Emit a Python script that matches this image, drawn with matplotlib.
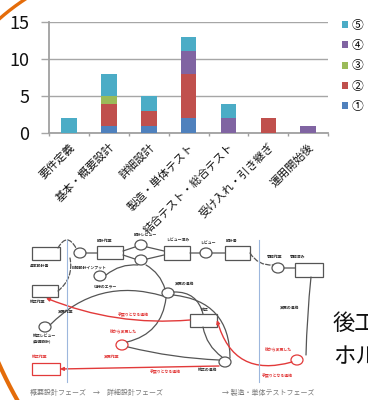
import numpy as np
import matplotlib
matplotlib.use('Agg')
import matplotlib.pyplot as plt
from matplotlib.patches import Rectangle, Ellipse, FancyArrowPatch

plt.rcParams['font.family'] = ['Noto Sans CJK JP', 'DejaVu Sans']

# defects found per phase, split by type
phases = ['要件定義', '基本・概要設計', '詳細設計', '製造・単体テスト',
          '結合テスト・総合テスト', '受け入れ・引き継ぎ', '運用開始後']
series_names = ['①', '②', '③', '④', '⑤']
s1 = [0, 1, 1, 2, 0, 0, 0]
s2 = [0, 3, 2, 6, 0, 2, 0]
s3 = [0, 1, 0, 0, 0, 0, 0]
s4 = [0, 0, 0, 3, 2, 0, 1]
s5 = [2, 3, 2, 2, 2, 0, 0]
colors = ['#4F81BD', '#C0504D', '#9BBB59', '#8064A2', '#4BACC6']
y_ticks = [0, 5, 10, 15]

W, H = 368, 400
fig = plt.figure(figsize=(W / 100, H / 100), dpi=100)

# --- flow diagram underneath (pixel coordinates) ---
ov = fig.add_axes([0, 0, 1, 1], zorder=0)
ov.set_xlim(0, W)
ov.set_ylim(H, 0)
ov.axis('off')

GRAY = '#555555'
RED = '#e23a3a'


def box(x0, y0, x1, y1, c=GRAY):
    ov.add_patch(Rectangle((x0, y0), x1 - x0, y1 - y0, fill=False, ec=c, lw=0.9))


def oval(cx, cy, c=GRAY, w=12, h=10):
    ov.add_patch(Ellipse((cx, cy), w, h, fill=False, ec=c, lw=0.9))


def link(p0, p1, rad=0.0, c=GRAY, ls='-', arrow='-', lw=0.9):
    ov.add_patch(FancyArrowPatch(p0, p1, connectionstyle=f'arc3,rad={rad}',
                                 arrowstyle=arrow, mutation_scale=5,
                                 color=c, lw=lw, ls=ls, shrinkA=0, shrinkB=0))


def tiny(x, y, s, c='#333333', size=2.8):
    ov.text(x, y, s, fontsize=size, color=c, ha='left', va='center', weight='bold')


# phase separators
for xv in (67, 259):
    ov.plot([xv, xv], [240, 382], color='#9db7dd', lw=0.8)

box(32, 247, 60, 260)
box(97, 246, 123, 259)
box(164, 246, 190, 260)
box(225, 246, 250, 260)
box(295, 263, 323, 277)
box(32, 285, 58, 297)
box(190, 314, 217, 327)
box(32, 363, 60, 375, RED)

for cx, cy in [(80, 253), (141, 245), (141, 260), (206, 253), (278, 268),
               (100, 276), (168, 293), (45, 327), (225, 362)]:
    oval(cx, cy)
oval(122, 345, RED)
oval(297, 360, RED)

# upper chain
link((86, 253), (97, 253))
link((123, 251), (135, 247))
link((123, 255), (135, 259))
link((147, 247), (164, 251))
link((147, 259), (164, 255))
link((190, 253), (200, 253))
link((212, 253), (225, 253))
link((284, 268), (295, 268))
link((58, 248), (76, 248), rad=-0.9, ls='--')
link((58, 291), (70, 258), rad=0.3, ls='--')
link((250, 253), (273, 265), rad=0.3, ls='--')

# lower web
link((106, 275), (138, 265), rad=-0.2)
link((146, 265), (165, 289), rad=-0.2)
link((174, 292), (203, 314), rad=-0.4)
link((50, 325), (163, 296), rad=-0.3)
link((127, 342), (166, 298), rad=0.35)
link((128, 347), (219, 360), rad=0.05)
link((203, 327), (222, 357), rad=0.2)
link((173, 295), (230, 358), rad=-0.45)
link((311, 277), (306, 355), rad=0.02)

# rework paths
link((190, 320), (46, 298), rad=-0.12, c=RED, arrow='-|>', lw=1.0)
link((292, 362), (217, 320), rad=-0.5, c=RED, arrow='-|>', lw=1.0)
link((219, 366), (60, 369), rad=0.0, c=RED, arrow='-|>', lw=1.0)

# labels inside the diagram
tiny(30, 266, '基本設計書')
tiny(97, 241, '設計作業')
tiny(134, 235, '設計レビュー')
tiny(166, 241, 'レビュー済み')
tiny(200, 243, 'レビュー')
tiny(226, 241, '設計書')
tiny(267, 257, '承認作業')
tiny(290, 257, '承認済み')
tiny(72, 268, '詳細設計インプット')
tiny(94, 286, '仕様のエラー')
tiny(175, 284, '変更の連絡')
tiny(30, 302, '修正作業')
tiny(58, 312, '変更作業')
tiny(33, 336, '修正レビュー')
tiny(33, 341, '(基礎設計)')
tiny(201, 310, '修正')
tiny(280, 308, '変更の連絡')
tiny(198, 370, '修正の連絡')
tiny(32, 357, '修正作業', RED)
tiny(110, 332, '後から変更した', RED)
tiny(104, 357, '変更作業', RED)
tiny(118, 315, '手戻りとなる連絡', RED)
tiny(150, 372, '手戻りとなる連絡', RED)
tiny(265, 350, '後から変更した', RED)
tiny(262, 376, '手戻りとなる連絡', RED)

ov.text(30, 393, '概要設計フェーズ　→　詳細設計フェーズ', fontsize=5.0,
        color='#7a7a7a', va='center')
ov.text(222, 393, '→ 製造・単体テストフェーズ', fontsize=5.0,
        color='#7a7a7a', va='center')

ov.text(333, 324, '後工程', fontsize=16, color='#111111', va='center')
ov.text(333, 356, 'ホルダ', fontsize=16, color='#111111', va='center')

# orange slide decoration
t = np.linspace(np.pi, 1.5 * np.pi, 200)
ov.plot(150 + 228 * np.cos(t), 190 + 228 * np.sin(t), color='#E46C0A', lw=2.4)
t = np.linspace(0.5 * np.pi, np.pi, 300)
ov.plot(389 + 427 * np.cos(t), 190 + 427 * np.sin(t), color='#E46C0A', lw=3.0)

# --- stacked bar chart ---
ax = fig.add_axes([49.3 / W, 1 - 133.3 / H, (328 - 49.3) / W, (133.3 - 21.7) / H],
                  zorder=2)
ax.patch.set_alpha(0)
x = np.arange(len(phases))
bottom = np.zeros(len(phases))
for name, vals, c in zip(series_names, [s1, s2, s3, s4, s5], colors):
    ax.bar(x, vals, 0.39, bottom=bottom, color=c, linewidth=0, label=name, zorder=3)
    bottom += np.array(vals)

ax.set_xlim(-0.5, len(phases) - 0.5)
ax.set_ylim(0, 15)
ax.set_yticks(y_ticks)
ax.yaxis.grid(True, color='#a6a6a6', lw=1.0)
ax.set_axisbelow(True)
for side in ('top', 'right'):
    ax.spines[side].set_visible(False)
for side in ('left', 'bottom'):
    ax.spines[side].set_color('#a0a0a0')
    ax.spines[side].set_linewidth(1.3)

ax.tick_params(axis='y', length=5.5, width=1.0, color='#a6a6a6', pad=9,
               labelsize=13, labelcolor='#111111')
ax.set_xticks(x)
ax.set_xticklabels(phases, rotation=45, ha='right', rotation_mode='anchor',
                   fontsize=8, color='#111111')
ax.tick_params(axis='x', which='major', length=0, pad=6)
ax.set_xticks(np.arange(-0.5, len(phases)), minor=True)
ax.tick_params(axis='x', which='minor', length=2.5, width=1.0, color='#a0a0a0')

h, l = ax.get_legend_handles_labels()
fig.legend(h[::-1], l[::-1], loc='upper left', bbox_to_anchor=(337 / W, 1 - 14 / H),
           frameon=False, fontsize=8.5, handlelength=0.55, handleheight=0.55,
           handletextpad=0.25, labelspacing=0.62, borderaxespad=0)

fig.savefig('out.png', dpi=100)
